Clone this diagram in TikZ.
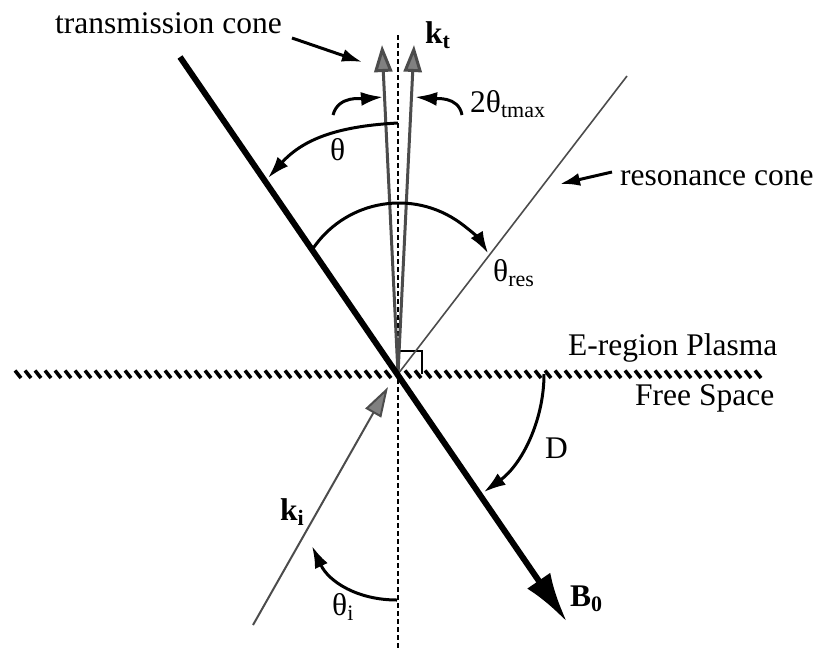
\documentclass[tikz,border=0pt]{standalone}
\usepackage{fontspec}
\setmainfont{Liberation Serif}
\usetikzlibrary{arrows.meta}
\newcommand{\lbsub}[1]{\raisebox{-0.35ex}{\fontsize{22}{22}\selectfont #1}}
\tikzset{
  lbl/.style={inner sep=0pt, anchor=base west},
  axisline/.style={line width=2pt, dash pattern=on 5pt off 3pt},
  bline/.style={line width=6pt, -{Latex[length=50pt,width=28pt]}},
  arcarrow/.style={line width=3pt, -{Latex[length=22pt,width=14pt]}},
  pointer/.style={line width=3pt, -{Latex[length=20pt,width=13pt]}},
  ktarrow/.style={line width=3pt, draw=black!70, -{Triangle[length=27pt,width=18pt,fill=black!50]}},
  kiarrow/.style={line width=2pt, draw=black!70, -{Triangle[length=30pt,width=18pt,fill=black!50]}},
  resline/.style={line width=1.6pt, draw=black!70},
  hatch/.style={line width=3.6pt},
}
\begin{document}
\begin{tikzpicture}[x=1pt,y=1pt,font=\fontsize{31.5}{34}\selectfont]
\useasboundingbox (0,0) rectangle (818,-659);
\coordinate (O) at (398,-374);
% boundary hatched line
\foreach \x in {15,25,...,755}{
  \draw[hatch] (\x,-370.5) -- (\x+6,-378);
}
% vertical normal
\coordinate (vtop) at (398,-35);
\coordinate (vbot) at (398,-648);
\draw[axisline] (vtop) -- (vbot);
% right angle mark
\draw[line width=1.6pt] (400,-351) -- (422,-351) -- (422,-374);
% resonance cone line
\coordinate (rtop) at (627,-76);
\draw[resline] (O) -- (rtop);
% transmission cone arrows
\coordinate (kt1) at (382,-45);
\coordinate (kt2) at (414,-45);
\draw[ktarrow] (O) -- (kt1);
\draw[ktarrow] (O) -- (kt2);
% incident wave
\coordinate (kis) at (253,-625);
\coordinate (kie) at (388,-387);
\draw[kiarrow] (kis) -- (kie);
% B0 line
\coordinate (bs) at (180,-57);
\coordinate (be) at (567,-622);
\draw[bline] (bs) -- (be);
% theta arc
\draw[arcarrow] (398,-123) to[out=183,in=48] (268,-178);
% theta res arc
\draw[arcarrow] (399,-307) ++(147:104) arc[start angle=147,end angle=31,radius=104];
% D arc
\draw[arcarrow] (O) ++(0:146) arc[start angle=0,end angle=-54,radius=146];
% theta_i arc
\draw[arcarrow] (397,-600) to[out=180,in=-65] (312,-546);
% 2theta tmax arrows
\draw[arcarrow] (333,-115) to[out=75,in=185] (383,-97);
\draw[arcarrow] (462,-115) to[out=100,in=-5] (415,-97);
% pointers
\draw[pointer] (292,-38) -- (362,-62);
\draw[pointer] (612,-172) -- (560,-184);
% labels
\node[lbl] (ltc) at (55,-33) {transmission cone};
\node[lbl] (lkt) at (425,-43) {\textbf{k\lbsub{t}}};
\node[lbl] (l2t) at (470,-112) {2θ\lbsub{tmax}};
\node[lbl] (lth) at (330,-160) {θ};
\node[lbl] (lrc) at (620,-185) {resonance cone};
\node[lbl] (lres) at (493,-281) {θ\lbsub{res}};
\node[lbl] (lep) at (568,-355) {E-region Plasma};
\node[lbl] (lfs) at (635,-405) {Free Space};
\node[lbl] (ld) at (545,-458) {D};
\node[lbl] (lki) at (280,-520) {\textbf{k\lbsub{i}}};
\node[lbl] (lthi) at (332,-615) {θ\lbsub{i}};
\node[lbl] (lb0) at (570,-606) {\textbf{B\lbsub{0}}};
\end{tikzpicture}
\end{document}
